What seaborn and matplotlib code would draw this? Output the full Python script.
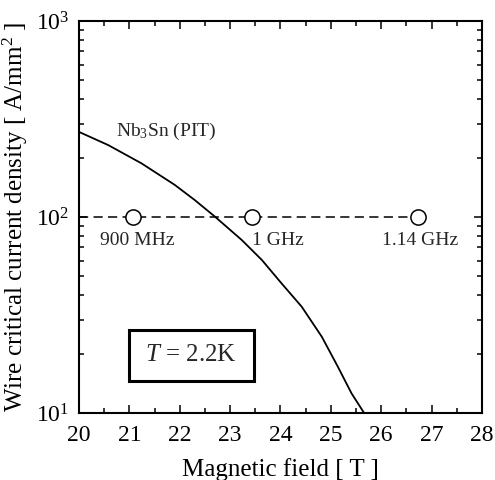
import numpy as np
import pandas as pd
import matplotlib
matplotlib.use("Agg")
import matplotlib.pyplot as plt
import seaborn as sns
from matplotlib.patches import Rectangle
from matplotlib.ticker import LogLocator, LogFormatterMathtext, MultipleLocator

# ---- data ----
field = [20.0, 20.58, 21.24, 21.9, 22.3, 22.7, 23.23, 23.63, 24.02, 24.42,
         24.82, 25.14, 25.41, 25.66]
jc = [272, 233, 188, 146, 122, 100.4, 76.4, 60.4, 45.9, 34.9, 24.5, 17.2,
      12.6, 10]
target_jc = 100
freq_labels = ["900 MHz", "1 GHz", "1.14 GHz"]
freq_field = [21.07, 23.43, 26.73]
freq_label_x = [21.15, 23.95, 26.77]
freq_label_y = [76, 76, 76]

sns.set_theme(style="ticks")
plt.rcParams["font.family"] = "serif"
plt.rcParams["font.serif"] = ["Liberation Serif", "Times New Roman", "DejaVu Serif"]
plt.rcParams["mathtext.fontset"] = "custom"
plt.rcParams["mathtext.rm"] = "Liberation Serif"
plt.rcParams["mathtext.it"] = "Liberation Serif:italic"

fig = plt.figure(figsize=(4.95, 4.8), dpi=100)
ax = fig.add_axes([0.1596, 0.1396, 0.8141, 0.8164])

curve = pd.DataFrame({"B": field, "Jc": jc})
sns.lineplot(data=curve, x="B", y="Jc", ax=ax, color="black", lw=1.3, sort=False)

dash = pd.DataFrame({"B": [20.0, freq_field[-1]], "Jc": [target_jc, target_jc]})
ax.plot(dash["B"], dash["Jc"], color="black", lw=1.1, dashes=(6, 3.5), zorder=2)

pts = pd.DataFrame({"B": freq_field, "Jc": [target_jc] * len(freq_field)})
sns.scatterplot(data=pts, x="B", y="Jc", ax=ax, s=120, facecolor="white",
                edgecolor="black", linewidth=1.1, zorder=3)

for lab, x, y in zip(freq_labels, freq_label_x, freq_label_y):
    ax.text(x, y, lab, ha="center", va="center", fontsize=14)

ax.text(21.73, 272, r"Nb$_3$Sn (PIT)", ha="center", va="center", fontsize=14)

ax.add_patch(Rectangle((0.124, 0.0816), 0.310, 0.130, transform=ax.transAxes,
                       fill=False, edgecolor="black", lw=2.2, zorder=4))
ax.text(0.278, 0.148, r"$T$ = 2.2K", transform=ax.transAxes, ha="center",
        va="center", fontsize=18)

ax.set_yscale("log")
ax.set_xlim(20, 28)
ax.set_ylim(10, 1000)
ax.xaxis.set_major_locator(MultipleLocator(1))
ax.xaxis.set_minor_locator(MultipleLocator(0.5))
ax.yaxis.set_major_locator(LogLocator(base=10))
ax.yaxis.set_minor_locator(LogLocator(base=10, subs=np.arange(2, 10)))
ax.yaxis.set_major_formatter(LogFormatterMathtext())
ax.yaxis.set_minor_formatter(plt.NullFormatter())

ax.tick_params(which="both", direction="in", top=True, right=True,
               labelsize=17, width=1.1, color="black", labelcolor="black")
ax.tick_params(which="major", length=6)
ax.tick_params(axis="x", which="major", pad=9)
ax.tick_params(axis="y", which="major", pad=7)
ax.tick_params(which="minor", length=3.5)
for s in ax.spines.values():
    s.set_visible(True)
    s.set_linewidth(1.5)
    s.set_color("black")

ax.set_xlabel("Magnetic field [ T ]", fontsize=18, color="black", labelpad=8)
ax.set_ylabel(r"Wire critical current density [ A/mm$^2$ ]", fontsize=18,
              color="black", labelpad=4)

fig.savefig("out.png", dpi=100)
